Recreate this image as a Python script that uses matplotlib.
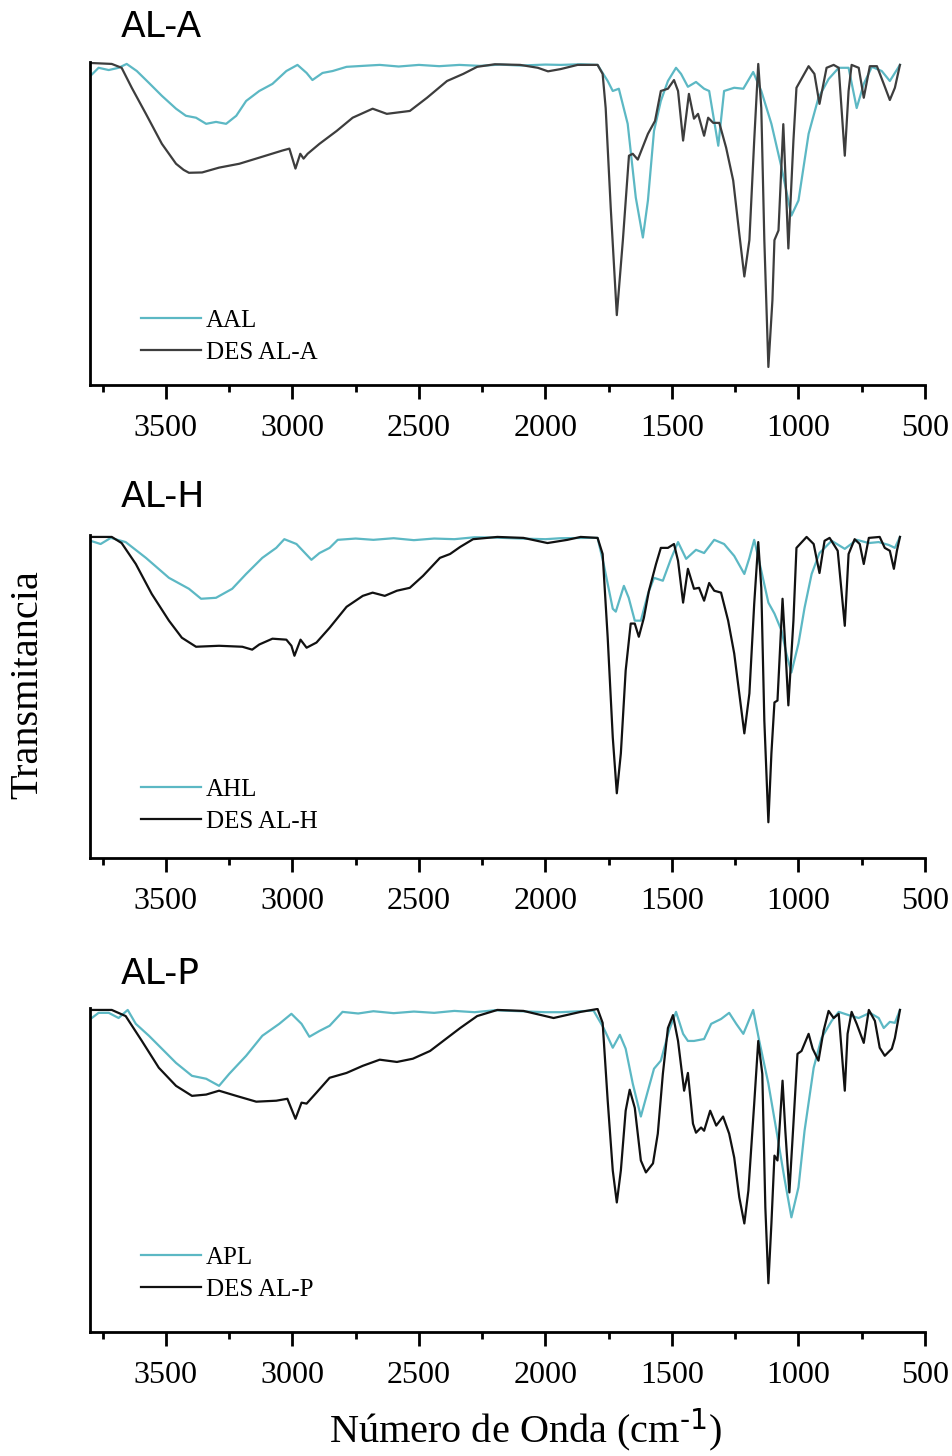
from __future__ import annotations

import matplotlib

matplotlib.use("Agg")

import matplotlib.pyplot as plt
import numpy as np
from matplotlib.ticker import MultipleLocator

plt.rcParams["font.family"] = ["Liberation Serif", "DejaVu Serif"]
plt.rcParams["mathtext.default"] = "regular"

CYAN = "#5cb8c4"

# (wavenumber cm-1, transmittance %)
ala_des = [
    (3798, 100), (3714, 99.7), (3675, 98.5), (3635, 92.3), (3579, 84.2), (3516, 74.9), (3460, 68.7),
    (3430, 66.8), (3409, 65.9), (3357, 66), (3290, 67.5), (3210, 68.7), (3131, 70.6), (3040, 72.8), (3012, 73.4),
    (2988, 67.2), (2969, 71.8), (2956, 70.3), (2940, 71.8), (2893, 74.9), (2825, 78.9), (2762, 83),
    (2683, 85.8), (2627, 84.2), (2536, 85.1), (2468, 89.2), (2389, 94.4), (2325, 96.6), (2270, 98.8),
    (2200, 99.6), (2100, 99.4), (2030, 98.5), (1990, 97.4), (1940, 98.1), (1873, 99.4), (1794, 99.4),
    (1774, 96.6), (1762, 86), (1742, 55), (1718, 21.7), (1694, 45), (1670, 71.2), (1655, 71.8),
    (1635, 70), (1595, 78), (1567, 82), (1544, 91.3), (1516, 92), (1492, 94.7), (1476, 91.3),
    (1456, 75.9), (1433, 90.4), (1413, 82.7), (1397, 84.2), (1373, 77.4), (1357, 83), (1337, 81.4),
    (1313, 81.4), (1286, 73.7), (1258, 63.5), (1234, 47), (1214, 33.7), (1194, 45), (1175, 75.9),
    (1159, 99.7), (1147, 86), (1135, 45), (1119, 5.6), (1103, 26.3), (1095, 45), (1079, 48),
    (1060, 81), (1052, 65.6), (1040, 42.4), (1020, 75.9), (1008, 92.3), (960, 99), (937, 96.6),
    (917, 87.3), (889, 98.5), (861, 99.4), (841, 98.5), (817, 71.2), (802, 91.3), (790, 99.4),
    (762, 98.5), (742, 89.2), (718, 99), (690, 99), (663, 93.5), (639, 88.5), (619, 92.3), (599, 99.4),
]
ala_aal = [
    (3798, 96), (3766, 98.5), (3726, 97.8), (3687, 98.5), (3655, 99.7), (3615, 97.5), (3567, 93.8),
    (3516, 89.8), (3460, 85.8), (3421, 83.6), (3381, 83), (3341, 81.1), (3302, 81.7), (3262, 81.1),
    (3222, 83.6), (3183, 88.2), (3131, 91.3), (3079, 93.5), (3024, 97.5), (2980, 99.4), (2944, 96.9),
    (2921, 94.7), (2881, 96.9), (2841, 97.5), (2786, 98.8), (2700, 99.2), (2655, 99.4), (2580, 98.9),
    (2500, 99.4), (2420, 99.0), (2340, 99.4), (2260, 99.1), (2180, 99.5), (2100, 99.2), (2000, 99.5),
    (1940, 99.4), (1860, 99.6), (1794, 99.4), (1754, 94.4), (1734, 91.3), (1710, 92), (1675, 81.1),
    (1643, 58.2), (1615, 45.8), (1595, 57.3), (1571, 78.9), (1544, 88.2), (1516, 94.4), (1484, 98.5),
    (1464, 96.6), (1437, 92.6), (1405, 94.1), (1373, 92), (1353, 91.3), (1317, 74.3), (1294, 91.3),
    (1254, 92.3), (1218, 92), (1179, 97.2), (1147, 91.3), (1107, 81.1), (1067, 67.5), (1028, 52.6),
    (1000, 57.3), (960, 78), (921, 89.2), (881, 95), (841, 98.5), (802, 98.5), (770, 86), (742, 93.5),
    (710, 98.8), (671, 97.5), (639, 94.4), (599, 99.4),
]
alh_des = [
    (3798, 99.7), (3714, 99.7), (3675, 97.8), (3619, 91.3), (3556, 82), (3488, 73.7), (3437, 68.4),
    (3381, 65.6), (3290, 65.9), (3198, 65.6), (3159, 64.7), (3131, 66.3), (3079, 68.1), (3024, 67.8),
    (3004, 65.9), (2992, 62.8), (2968, 67.8), (2944, 65.3), (2905, 66.9), (2853, 71.5), (2786, 78),
    (2722, 81.4), (2683, 82.4), (2635, 81.4), (2587, 83), (2536, 83.9), (2484, 87.6), (2417, 93.2),
    (2377, 94.4), (2337, 96.6), (2286, 99), (2190, 99.7), (2087, 99.4), (1992, 97.8), (1913, 98.8),
    (1861, 99.7), (1794, 99.4), (1774, 94.4), (1754, 68.4), (1734, 37.5), (1718, 20.1), (1702, 32.5),
    (1683, 58.2), (1663, 72.8), (1647, 72.8), (1631, 68.7), (1611, 74.6), (1591, 83), (1563, 91.3),
    (1544, 96.3), (1516, 96.3), (1492, 97.5), (1476, 92.3), (1456, 79.3), (1437, 89.8), (1413, 83.6),
    (1393, 83.9), (1373, 79.9), (1353, 85.4), (1333, 83), (1306, 82.4), (1278, 73.7), (1254, 63.5),
    (1234, 51.1), (1214, 38.7), (1194, 51.1), (1175, 78.9), (1159, 98.1), (1147, 83.9), (1135, 42.7),
    (1119, 11.1), (1107, 32.5), (1095, 48.3), (1083, 48.9), (1063, 80.5), (1052, 65.3), (1040, 47.4),
    (1020, 73.7), (1008, 96.3), (968, 99.7), (940, 97.5), (917, 88.5), (897, 98.5), (877, 99.4),
    (845, 95.4), (817, 72.1), (802, 94.4), (778, 99), (758, 97.5), (742, 91.3), (722, 99.4), (679, 99.7),
    (659, 96.3), (639, 95.4), (623, 89.8), (611, 95.4), (599, 99.7),
]
alh_ahl = [
    (3798, 98.5), (3758, 97.5), (3718, 99.4), (3659, 98.1), (3579, 93.2), (3488, 87), (3409, 83.6),
    (3361, 80.5), (3302, 80.8), (3238, 83.6), (3183, 88.2), (3119, 93.2), (3064, 96.3), (3032, 99),
    (2984, 97.5), (2925, 92.6), (2893, 94.7), (2853, 96.3), (2821, 98.8), (2750, 99.2), (2680, 98.8),
    (2600, 99.3), (2520, 98.7), (2440, 99.2), (2360, 99.0), (2280, 99.6), (2200, 99.5), (2100, 99.2),
    (2000, 99.0), (1940, 99.3), (1833, 99.4), (1794, 99.4), (1770, 91.3), (1734, 77.4), (1722, 76.5),
    (1690, 84.5), (1671, 80.8), (1647, 73.7), (1623, 73.7), (1595, 82), (1571, 87), (1536, 86.1),
    (1504, 92.9), (1476, 98.1), (1444, 92.9), (1405, 95.7), (1373, 94.7), (1333, 98.8), (1294, 97.5),
    (1254, 93.8), (1214, 88.2), (1194, 93.2), (1175, 98.8), (1147, 89.2), (1119, 79.3), (1095, 75.9),
    (1067, 70.6), (1048, 63.5), (1028, 57.6), (1000, 66.6), (976, 77.7), (948, 88.2), (917, 94.7),
    (869, 98.5), (817, 96), (770, 98.8), (722, 97.8), (683, 98.1), (643, 97.2), (619, 96.3), (599, 99.7),
]
alp_des = [
    (3798, 99.7), (3714, 99.7), (3659, 97.8), (3595, 90.1), (3528, 81.8), (3460, 76.2), (3397, 73.1),
    (3341, 73.5), (3290, 74.7), (3222, 73.1), (3143, 71.3), (3064, 71.6), (3020, 72.2), (2988, 66),
    (2964, 71), (2944, 70.7), (2905, 74.1), (2853, 78.7), (2786, 80.2), (2722, 82.4), (2655, 84.3),
    (2587, 83.6), (2524, 84.6), (2456, 87), (2389, 91), (2337, 94.1), (2270, 97.8), (2190, 99.7),
    (2087, 99.4), (1968, 97.2), (1861, 99.1), (1794, 100), (1774, 95.7), (1754, 71.6), (1734, 50),
    (1718, 40.1), (1702, 50), (1683, 68.5), (1667, 75), (1647, 69.4), (1623, 53.1), (1603, 49.4),
    (1575, 52.2), (1556, 61.4), (1536, 79.9), (1516, 94.1), (1496, 98.1), (1476, 90.1), (1452, 74.7),
    (1437, 80.2), (1417, 64.5), (1405, 61.7), (1385, 63.3), (1373, 62.3), (1349, 68.5), (1325, 63.9),
    (1298, 66.7), (1274, 61.4), (1254, 54), (1234, 41.7), (1214, 33.6), (1198, 43.8), (1175, 70.7),
    (1159, 90.1), (1143, 79.9), (1131, 38.6), (1119, 15.1), (1107, 33.6), (1095, 54.6), (1083, 53.1),
    (1063, 77.8), (1052, 62.3), (1036, 43.2), (1020, 64.5), (1004, 86.1), (988, 87), (960, 92.3),
    (944, 87.7), (921, 84), (901, 93.2), (881, 99.4), (861, 97.2), (841, 98.5), (817, 74.7), (806, 92.3),
    (790, 99.1), (770, 95.4), (742, 89.5), (722, 99.7), (698, 96.3), (679, 88), (659, 85.5), (631, 87.7),
    (619, 91), (599, 99.7),
]
alp_apl = [
    (3798, 96.9), (3766, 98.8), (3726, 98.8), (3687, 97.2), (3651, 99.7), (3619, 95.4), (3567, 91.7),
    (3516, 87.7), (3460, 83.3), (3397, 79.3), (3341, 78.4), (3290, 76.2), (3250, 79.9), (3183, 85.5),
    (3119, 91.7), (3052, 95.4), (3004, 98.5), (2964, 95.4), (2933, 91.4), (2893, 93.2), (2853, 94.8),
    (2802, 99.1), (2740, 98.6), (2680, 99.3), (2600, 98.7), (2520, 99.2), (2440, 98.8), (2360, 99.4),
    (2280, 99.0), (2200, 99.6), (2100, 99.3), (2000, 99.0), (1940, 99), (1810, 99.5), (1770, 94.1),
    (1734, 88), (1706, 92), (1683, 87.7), (1655, 76.9), (1623, 66.7), (1595, 74.7), (1571, 81.5),
    (1544, 84), (1512, 93.2), (1484, 99.1), (1456, 92.3), (1437, 90.1), (1413, 90.1), (1373, 90.7),
    (1345, 95.4), (1306, 96.9), (1274, 98.8), (1246, 95.4), (1218, 92.3), (1179, 99.7), (1155, 90.1),
    (1119, 76.9), (1087, 62.3), (1056, 47.8), (1028, 35.5), (1000, 44.8), (976, 62.3), (940, 81.8),
    (909, 91), (869, 96.3), (841, 99.1), (802, 98.1), (762, 97.2), (718, 98.8), (683, 97.2), (663, 94.1),
    (639, 96), (619, 95.7), (599, 99.7),
]

# title, cyan series, cyan label, DES series, DES label, DES colour, axes top/bottom px, title px, legend y
panels = [
    ("AL-A", ala_aal, "AAL", ala_des, "DES AL-A", "#3d3d3d", 62, 385, 27, 0.065),
    ("AL-H", alh_ahl, "AHL", alh_des, "DES AL-H", "#111111", 535, 858, 497, 0.078),
    ("AL-P", alp_apl, "APL", alp_des, "DES AL-P", "#111111", 1008, 1332, 974, 0.096),
]

W, H = 953, 1456
fig = plt.figure(figsize=(W / 100, H / 100), dpi=100)

for title, cyan_pts, cyan_label, dark_pts, dark_label, dark_color, top_px, bot_px, title_px, leg_y in panels:
    ax = fig.add_axes([90 / W, 1 - bot_px / H, 835 / W, (bot_px - top_px) / H])
    cw, ct = np.array(cyan_pts).T
    dw, dt = np.array(dark_pts).T
    ax.plot(cw, ct, color=CYAN, lw=1.6, label=cyan_label, solid_joinstyle="round")
    ax.plot(dw, dt, color=dark_color, lw=1.6, label=dark_label, solid_joinstyle="round")
    ax.set_xlim(3800, 500)
    ax.set_ylim(0, 100.3)
    ax.spines["top"].set_visible(False)
    ax.spines["right"].set_visible(False)
    ax.spines["left"].set_linewidth(2)
    ax.spines["bottom"].set_linewidth(2)
    ax.set_yticks([])
    ax.xaxis.set_major_locator(MultipleLocator(500))
    ax.xaxis.set_minor_locator(MultipleLocator(250))
    ax.tick_params(axis="x", which="major", direction="out", length=10, width=2, labelsize=23, pad=11)
    ax.tick_params(axis="x", which="minor", direction="out", length=5, width=2)
    ax.legend(
        loc="lower left",
        bbox_to_anchor=(0.061, leg_y),
        frameon=False,
        fontsize=18,
        handlelength=2.4,
        handletextpad=0.2,
        labelspacing=0.38,
        borderpad=0,
        borderaxespad=0,
    )
    fig.text(121 / W, 1 - title_px / H, title, family="DejaVu Sans", fontsize=26, va="center", ha="left")

fig.text(28 / W, 1 - 685 / H, "Transmitancia", rotation=90, fontsize=29, va="center", ha="center")
fig.text(525 / W, 1 - 1430 / H, r"Número de Onda (cm$^{\text{-1}}$)", fontsize=29, va="center", ha="center")

fig.savefig("out.png", dpi=100)
plt.close(fig)
